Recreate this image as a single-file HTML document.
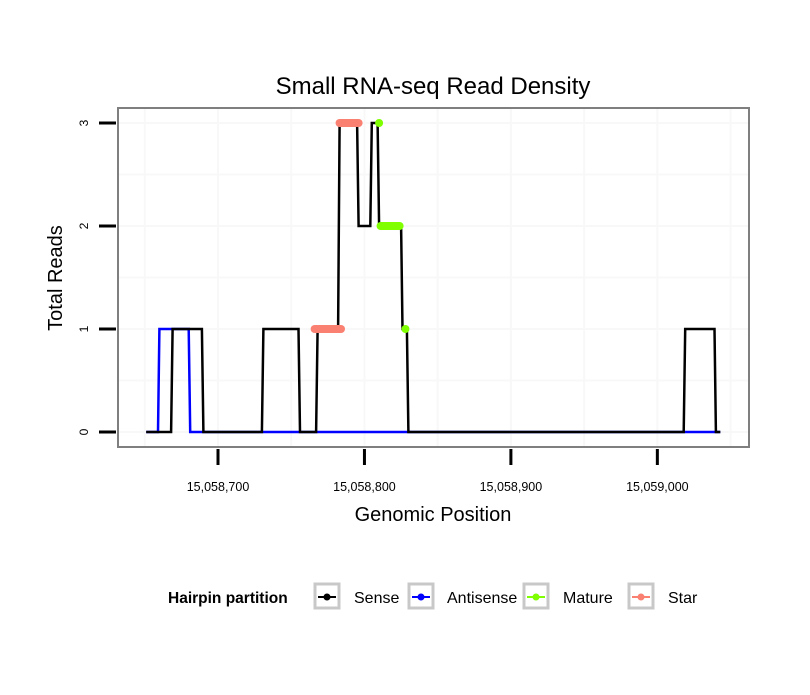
<!DOCTYPE html>
<html><head><meta charset="utf-8"><style>
body{margin:0;background:#fff;}
svg text{font-family:"Liberation Sans",sans-serif;}
</style></head><body>
<svg id="chart" width="810" height="690" xmlns="http://www.w3.org/2000/svg">
<rect x="0" y="0" width="810" height="690" fill="#fff"/>
<text x="433" y="94" font-size="24" text-anchor="middle" fill="#000">Small RNA-seq Read Density</text>
<g id="grid"></g>
<g id="series"></g>
<rect x="118" y="108" width="631" height="339" fill="none" stroke="#7f7f7f" stroke-width="2"/>
<g id="axes"></g>
<text x="433" y="521" font-size="20" text-anchor="middle">Genomic Position</text>
<text transform="translate(62,278) rotate(-90)" font-size="20" text-anchor="middle">Total Reads</text>
<g>
<text x="168" y="603" font-size="15.5" font-weight="bold">Hairpin partition</text>
<g>
<rect x="315" y="584" width="24" height="24" fill="#fff" stroke="#c8c8c8" stroke-width="3"/>
<line x1="318" y1="597" x2="336" y2="597" stroke="#000" stroke-width="2"/><circle cx="327" cy="597" r="3.5" fill="#000"/>
<text x="354" y="603" font-size="16">Sense</text></g>
<g>
<rect x="409" y="584" width="24" height="24" fill="#fff" stroke="#c8c8c8" stroke-width="3"/>
<line x1="412" y1="597" x2="430" y2="597" stroke="#0000ff" stroke-width="2"/><circle cx="421" cy="597" r="3.5" fill="#0000ff"/>
<text x="447" y="603" font-size="16">Antisense</text></g>
<g>
<rect x="524" y="584" width="24" height="24" fill="#fff" stroke="#c8c8c8" stroke-width="3"/>
<line x1="527" y1="597" x2="545" y2="597" stroke="#7fff00" stroke-width="2"/><circle cx="536" cy="597" r="3.5" fill="#7fff00"/>
<text x="563" y="603" font-size="16">Mature</text></g>
<g>
<rect x="629" y="584" width="24" height="24" fill="#fff" stroke="#c8c8c8" stroke-width="3"/>
<line x1="632" y1="597" x2="650" y2="597" stroke="#fa8072" stroke-width="2"/><circle cx="641" cy="597" r="3.5" fill="#fa8072"/>
<text x="668" y="603" font-size="16">Star</text></g>
</g>
</svg>
<script>
const xTicks=[15058700,15058800,15058900,15059000];
const xTickLabels=["15,058,700","15,058,800","15,058,900","15,059,000"];
const yTicks=[0,1,2,3];
const sensePos=[15058651,15058668,15058669,15058689,15058690,15058730,15058731,15058755,15058756,15058767,15058768,15058782,15058783,15058795,15058796,15058804,15058805,15058809,15058810,15058825,15058826,15058829,15058830,15059018,15059019,15059039,15059040,15059043];
const senseVal=[0,0,1,1,0,0,1,1,0,0,1,1,3,3,2,2,3,3,2,2,1,1,0,0,1,1,0,0];
const antiPos=[15058651,15058659,15058660,15058680,15058681,15059043];
const antiVal=[0,0,1,1,0,0];
const matureStart=[15058810,15058811,15058828];
const matureEnd=[15058810,15058824,15058828];
const matureVal=[3,2,1];
const starStart=[15058766,15058783];
const starEnd=[15058784,15058796];
const starVal=[1,3];

const NS="http://www.w3.org/2000/svg";
function X(p){return 218+(p-15058700)*1.4645;}
function Y(v){return 432-v*103;}
function mk(tag,attrs,parent){const e=document.createElementNS(NS,tag);for(const k in attrs)e.setAttribute(k,attrs[k]);parent.appendChild(e);return e;}
const grid=document.getElementById('grid'),series=document.getElementById('series'),axes=document.getElementById('axes');
for(let i=-1;i<xTicks.length+1;i++){
  const p=15058700+i*100;
  [p,p+50].forEach(q=>{const x=X(q);if(x>119&&x<748){const l=mk('line',{x1:x,x2:x,y1:109,y2:446,stroke:'#f8f8f8','stroke-width':2},grid);
  
  }});
}
for(let v=-0.5;v<=3.5;v+=0.5){const y=Y(v);if(y>109&&y<446){const l=mk('line',{x1:119,x2:748,y1:y,y2:y,stroke:'#f8f8f8','stroke-width':2},grid);
  
  }}
function pts(ps,vs){return ps.map((p,i)=>X(p).toFixed(1)+','+Y(vs[i]).toFixed(1)).join(' ');}
const a=mk('polyline',{points:pts(antiPos,antiVal),fill:'none',stroke:'#0000ff','stroke-width':2.5},series);


const s=mk('polyline',{points:pts(sensePos,senseVal),fill:'none',stroke:'#000','stroke-width':2.5,'stroke-linejoin':'miter'},series);


starStart.forEach((p,i)=>{const l=mk('line',{x1:X(p),x2:X(starEnd[i]),y1:Y(starVal[i]),y2:Y(starVal[i]),stroke:'#fa8072','stroke-width':8,'stroke-linecap':'round'},series);
  
  });
matureStart.forEach((p,i)=>{const l=mk('line',{x1:X(p),x2:X(matureEnd[i]),y1:Y(matureVal[i]),y2:Y(matureVal[i]),stroke:'#7fff00','stroke-width':8,'stroke-linecap':'round'},series);
  
  });
xTicks.forEach((t,i)=>{const x=X(t);
  const l=mk('line',{x1:x,x2:x,y1:449,y2:465,stroke:'#000','stroke-width':3},axes);
  
  
  const tx=mk('text',{x:x,y:491,'font-size':12.5,'text-anchor':'middle'},axes);tx.textContent=xTickLabels[i];
  
  });
yTicks.forEach(v=>{const y=Y(v);
  const l=mk('line',{x1:99,x2:116,y1:y,y2:y,stroke:'#000','stroke-width':3},axes);
  
  
  const tx=mk('text',{transform:`translate(88,${y}) rotate(-90)`,'font-size':12,'text-anchor':'middle'},axes);tx.textContent=String(v);
  
  });
</script>
</body></html>
